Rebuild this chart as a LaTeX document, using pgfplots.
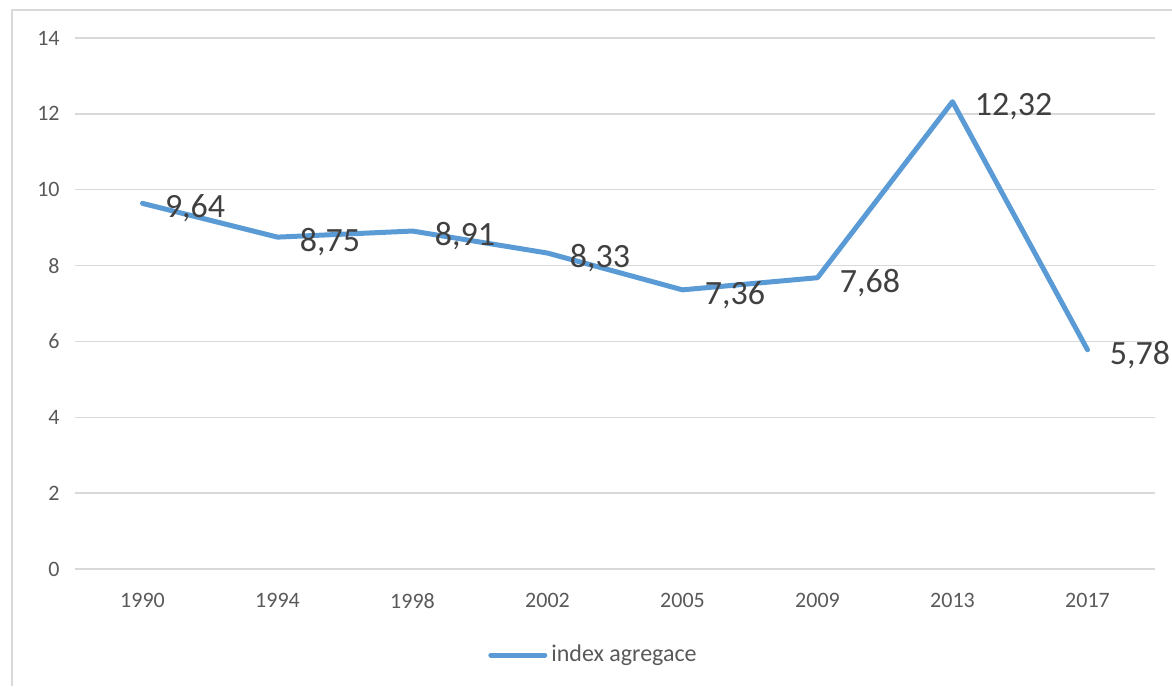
\documentclass[border=0pt]{standalone}
\usepackage{pgfplots}
\pgfplotsset{compat=1.18}
\usepackage{pgfplotstable}
\usepackage{fontspec}
\setmainfont{Carlito}
\definecolor{lineblue}{HTML}{5B9BD5}
\definecolor{gridgray}{HTML}{D9D9D9}
\definecolor{ticktext}{HTML}{595959}
\definecolor{labeltext}{HTML}{404040}
\pgfplotstableread{
x y lab
0 9.64 9,64
1 8.75 8,75
2 8.91 8,91
3 8.33 8,33
4 7.36 7,36
5 7.68 7,68
6 12.32 12,32
7 5.78 5,78
}\data
\begin{document}
\begin{tikzpicture}
\useasboundingbox (0,0) rectangle (586pt,343pt);
\draw[color=gridgray, line width=0.75pt] (6pt,0pt) -- (6pt,338pt) -- (586pt,338pt);
\begin{axis}[
  at={(37.5pt,58.5pt)}, anchor=south west,
  scale only axis, width=540pt, height=265.5pt,
  xmin=-0.5, xmax=7.5, ymin=0, ymax=14,
  xtick={0,...,7},
  xticklabels={1990,1994,1998,2002,2005,2009,2013,2017},
  ytick={0,2,...,14},
  ymajorgrids, grid style={color=gridgray, line width=0.75pt},
  axis line style={draw=none},
  major tick length=0pt,
  /pgf/number format/assume math mode=true,
  tick label style={font=\fontsize{11}{13}\selectfont, text=ticktext},
  yticklabel style={inner sep=0pt, anchor=east, xshift=-7.5pt},
  xticklabel style={inner sep=0pt, anchor=north, yshift=-12pt},
  clip=false,
  legend style={draw=none, fill=none, at={(0.481,-0.162)}, anchor=center,
    font=\fontsize{12}{14}\selectfont, text=ticktext},
  legend cell align=left,
  point meta=explicit symbolic,
  nodes near coords,
  every node near coord/.append style={anchor=west, inner sep=0pt, xshift=10pt, yshift=-2.5pt,
    font=\fontsize{17}{19}\selectfont, text=labeltext},
]
\addplot[color=lineblue, line width=2.5pt, line join=round, line cap=round, mark=none,
  legend image code/.code={\draw[color=lineblue, line width=2.5pt, line cap=round] (0pt,0pt) -- (27pt,0pt);}]
  table[x=x, y=y, meta=lab] {\data};
\addlegendentry{index agregace}
\end{axis}
\end{tikzpicture}
\end{document}
